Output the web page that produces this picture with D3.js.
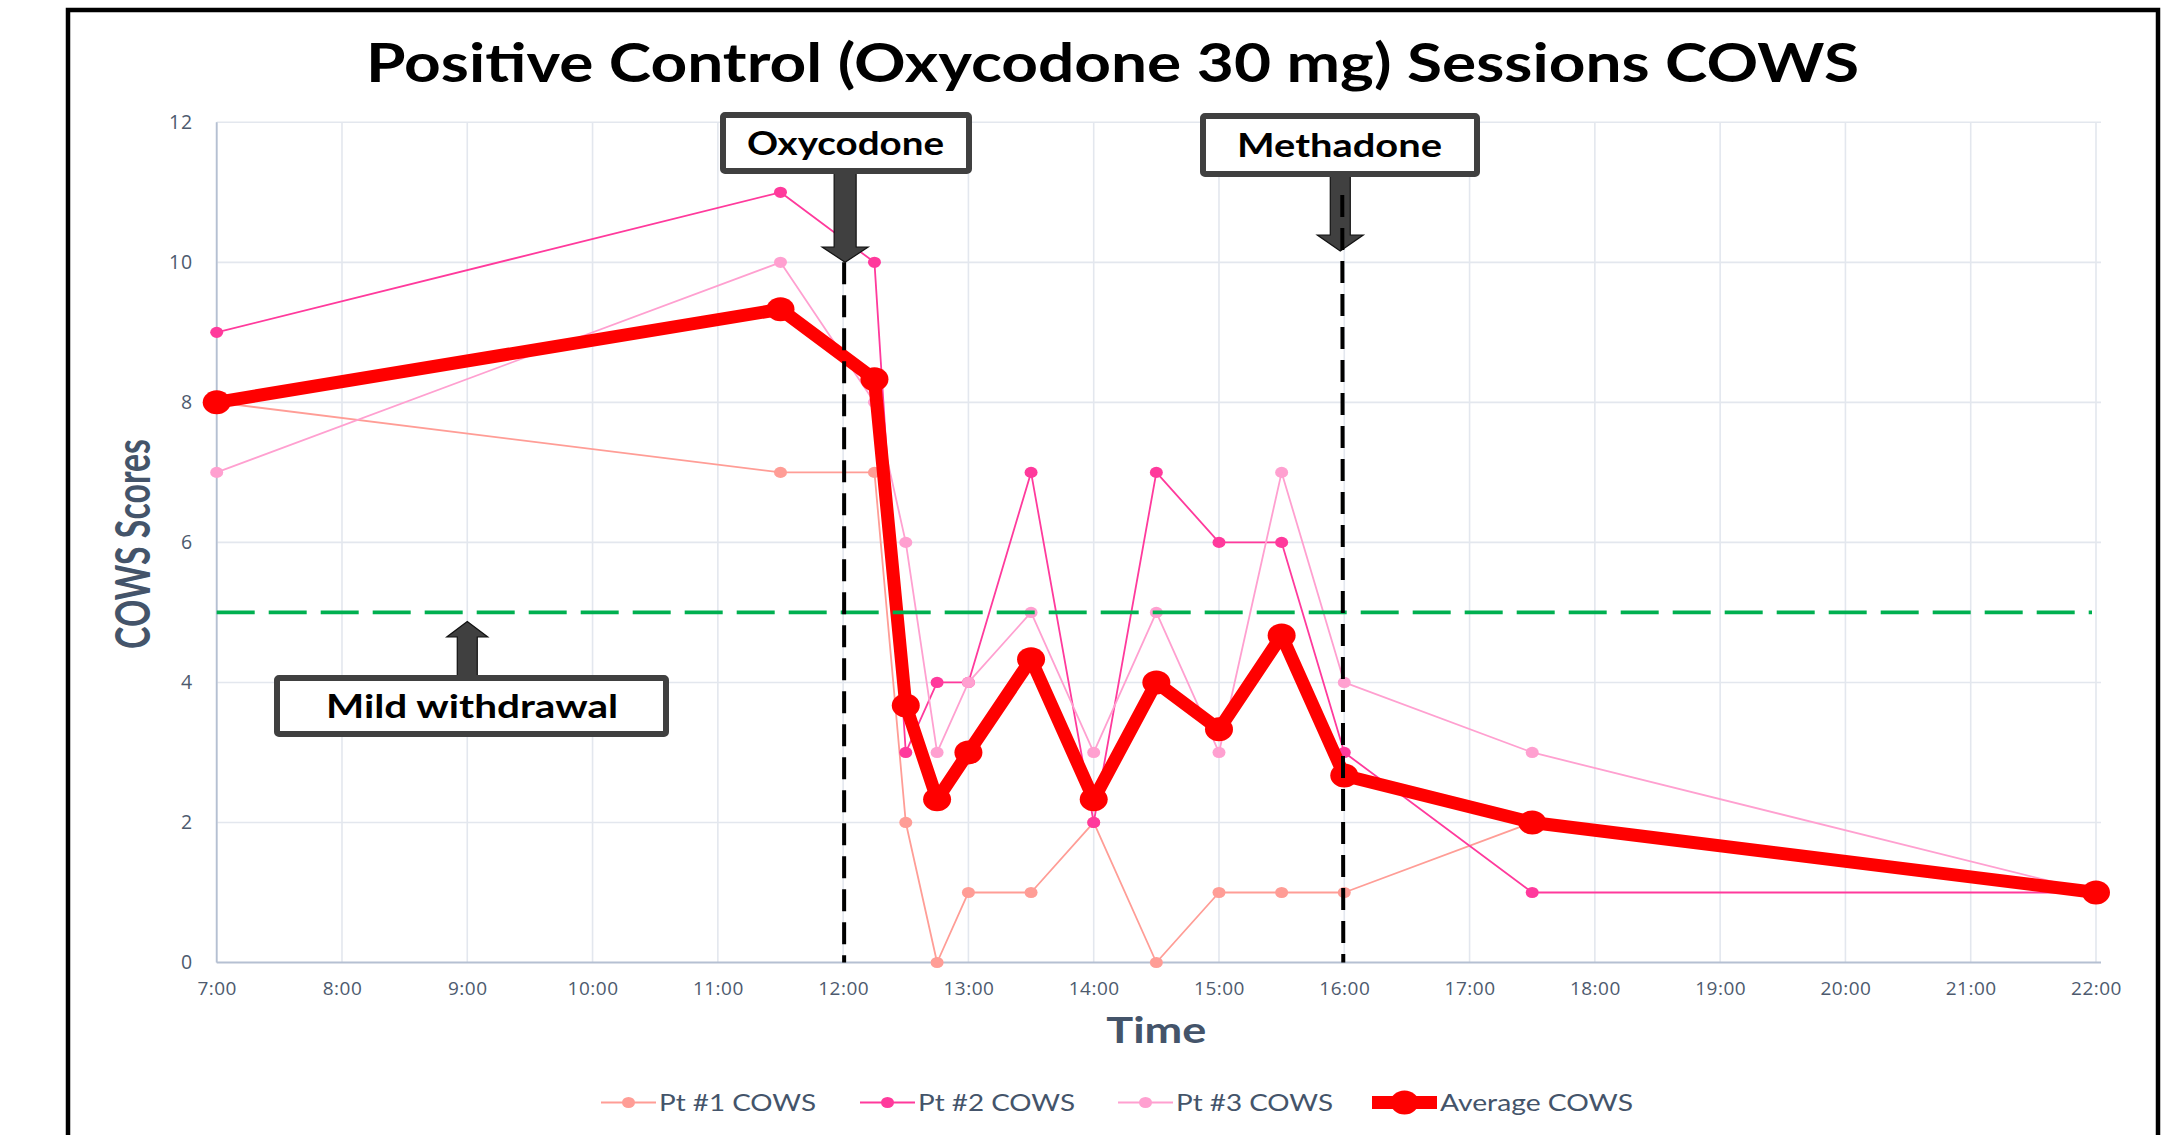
<!DOCTYPE html>
<html>
<head>
<meta charset="utf-8">
<script src="https://cdn.jsdelivr.net/npm/d3@7"></script>
<style>
  html, body { margin: 0; padding: 0; background: #ffffff; }
  svg { display: block; }
</style>
</head>
<body>
<svg id="chart" width="2164" height="1135"></svg>
<script>
// ---------------- DATA ----------------
const times = ["7:00","11:30","12:15","12:30","12:45","13:00","13:30","14:00","14:30","15:00","15:30","16:00","17:30","22:00"];
const pt1 = [8, 7, 7, 2, 0, 1, 1, 2, 0, 1, 1, 1, 2, 1];
const pt2 = [9, 11, 10, 3, 4, 4, 7, 2, 7, 6, 6, 3, 1, 1];
const pt3 = [7, 10, 8, 6, 3, 4, 5, 3, 5, 3, 7, 4, 3, 1];
const avg = [8, 9.33, 8.33, 3.67, 2.33, 3, 4.33, 2.33, 4, 3.33, 4.67, 2.67, 2, 1];
const seriesNames = ["Pt #1 COWS", "Pt #2 COWS", "Pt #3 COWS", "Average COWS"];
const xTickLabels = ["7:00","8:00","9:00","10:00","11:00","12:00","13:00","14:00","15:00","16:00","17:00","18:00","19:00","20:00","21:00","22:00"];
const yTicks = [0, 2, 4, 6, 8, 10, 12];
const titleText = "Positive Control (Oxycodone 30 mg) Sessions COWS";
const xTitle = "Time";
const yTitle = "COWS Scores";
const thresholdValue = 5;            // mild withdrawal threshold
const oxyTime = "12:00", methTime = "16:00", mildTime = "9:00";

// ---------------- HELPERS ----------------
const toHours = s => { const [h, m] = s.split(":").map(Number); return h + m / 60; };

const svg = d3.select("#chart");

// outer frame
svg.append("rect").attr("x", 68).attr("y", 10).attr("width", 2090).attr("height", 1140)
  .attr("fill", "#fff").attr("stroke", "#000").attr("stroke-width", 4.5);

const x = d3.scaleLinear().domain([toHours(xTickLabels[0]), toHours(xTickLabels[xTickLabels.length - 1])]).range([216.7, 2096]);
const y = d3.scaleLinear().domain([0, 12]).range([962.5, 122.3]);

const gridColor = "#e3e7ee", axisColor = "#b5c0d2", labelColor = "#4d5a6e", titleColor = "#44546a";

// gridlines
const g = svg.append("g");
g.selectAll(".vgrid").data(xTickLabels).join("line")
  .attr("x1", d => x(toHours(d))).attr("x2", d => x(toHours(d)))
  .attr("y1", y(12)).attr("y2", y(0))
  .attr("stroke", gridColor).attr("stroke-width", 1.6);
g.selectAll(".hgrid").data(yTicks.filter(d => d > 0)).join("line")
  .attr("x1", x.range()[0]).attr("x2", x.range()[1] + 5)
  .attr("y1", d => y(d)).attr("y2", d => y(d))
  .attr("stroke", gridColor).attr("stroke-width", 1.6);

// axes
const xAxis = d3.axisBottom(x).tickValues(xTickLabels.map(toHours))
  .tickFormat((d, i) => xTickLabels[i]).tickSize(0).tickPadding(19);
const yAxis = d3.axisLeft(y).tickValues(yTicks).tickFormat(d3.format("d")).tickSize(0).tickPadding(23.5);

const gx = svg.append("g").attr("transform", `translate(0,${y(0)})`).call(xAxis);
gx.select(".domain").attr("stroke", axisColor).attr("stroke-width", 1.8).attr("d", `M${x.range()[0]},0H${x.range()[1] + 5}`);
gx.selectAll("text").attr("font-family", "'Open Sans', sans-serif").attr("font-size", 19)
  .attr("fill", labelColor).attr("letter-spacing", 0.5);

const gy = svg.append("g").attr("transform", `translate(${x.range()[0]},0)`).call(yAxis);
gy.select(".domain").attr("stroke", axisColor).attr("stroke-width", 1.8).attr("d", `M0,${y(12)}V${y(0)}`);
gy.selectAll("text").attr("font-family", "'Open Sans', sans-serif").attr("font-size", 19.5)
  .attr("fill", labelColor).attr("letter-spacing", 1);

// titles
svg.append("text").attr("x", 366).attr("y", 82)
  .attr("font-family", "Lato, 'Open Sans', sans-serif").attr("font-weight", 700).attr("font-size", 53)
  .attr("textLength", 1493).attr("lengthAdjust", "spacingAndGlyphs").attr("fill", "#000")
  .text(titleText);

svg.append("text").attr("x", (x.range()[0] + x.range()[1]) / 2).attr("y", 1043)
  .attr("text-anchor", "middle")
  .attr("font-family", "Lato, sans-serif").attr("font-weight", 700).attr("font-size", 37)
  .attr("textLength", 100).attr("lengthAdjust", "spacingAndGlyphs").attr("fill", titleColor)
  .text(xTitle);

svg.append("text").attr("transform", "translate(150,544) rotate(-90)")
  .attr("text-anchor", "middle")
  .attr("font-family", "Lato, sans-serif").attr("font-weight", 700).attr("font-size", 47)
  .attr("textLength", 210).attr("lengthAdjust", "spacingAndGlyphs").attr("fill", titleColor)
  .text(yTitle);

// ---------------- SERIES ----------------
const seriesData = [pt1, pt2, pt3];
const seriesColors = ["#ff9d96", "#ff3a9c", "#ffa0d0"];
const line = d3.line().x(d => x(d.t)).y(d => y(d.v));

seriesData.forEach((vals, si) => {
  const pts = vals.map((v, i) => ({ t: toHours(times[i]), v }));
  const sg = svg.append("g");
  sg.append("path").datum(pts).attr("d", line).attr("fill", "none")
    .attr("stroke", seriesColors[si]).attr("stroke-width", 1.8).attr("stroke-linejoin", "round");
  sg.selectAll("ellipse").data(pts).join("ellipse")
    .attr("cx", d => x(d.t)).attr("cy", d => y(d.v)).attr("rx", 6.5).attr("ry", 5.6)
    .attr("fill", seriesColors[si]);
});

const avgPts = avg.map((v, i) => ({ t: toHours(times[i]), v }));
const ag = svg.append("g");
ag.append("path").datum(avgPts).attr("d", line).attr("fill", "none")
  .attr("stroke", "#ff0000").attr("stroke-width", 13).attr("stroke-linejoin", "round");
ag.selectAll("ellipse").data(avgPts).join("ellipse")
  .attr("cx", d => x(d.t)).attr("cy", d => y(d.v)).attr("rx", 14).attr("ry", 12)
  .attr("fill", "#ff0000");

// threshold line
svg.append("line").attr("x1", x.range()[0]).attr("x2", x.range()[1] - 4)
  .attr("y1", y(thresholdValue)).attr("y2", y(thresholdValue))
  .attr("stroke", "#00b050").attr("stroke-width", 3.6).attr("stroke-dasharray", "38,14");

// ---------------- ANNOTATIONS ----------------
const boxStroke = "#404040";
function arrowPath(cx, yStart, headY, tipY, sw, hw) {
  return `M${cx - sw},${yStart}L${cx + sw},${yStart}L${cx + sw},${headY}L${cx + hw},${headY}L${cx},${tipY}L${cx - hw},${headY}L${cx - sw},${headY}Z`;
}
function calloutBox(x0, y0, x1, y1, label, tx, tw, base) {
  svg.append("rect").attr("x", x0 + 3).attr("y", y0 + 3).attr("width", x1 - x0 - 6).attr("height", y1 - y0 - 6)
    .attr("rx", 2).attr("fill", "#fff").attr("stroke", boxStroke).attr("stroke-width", 6);
  svg.append("text").attr("x", tx).attr("y", base)
    .attr("font-family", "Lato, sans-serif").attr("font-weight", 700).attr("font-size", 32)
    .attr("textLength", tw).attr("lengthAdjust", "spacingAndGlyphs").attr("fill", "#000")
    .text(label);
}

// Oxycodone arrow
const oxX = x(toHours(oxyTime)) + 2;
svg.append("path").attr("d", arrowPath(oxX, 172, 247, y(10), 11, 23))
  .attr("fill", "#404040").attr("stroke", "#111").attr("stroke-width", 1.2);
// Methadone arrow
const meX = x(toHours(methTime)) - 4;
svg.append("path").attr("d", arrowPath(meX, 175, 235, 251, 10, 23))
  .attr("fill", "#404040").attr("stroke", "#111").attr("stroke-width", 1.2);
// Mild withdrawal arrow (up)
const miX = x(toHours(mildTime));
svg.append("path").attr("d", arrowPath(miX, 677, 637, 621.5, 10, 20.5))
  .attr("fill", "#404040").attr("stroke", "#111").attr("stroke-width", 1.2);

// dashed vertical dose lines
svg.append("line").attr("x1", x(toHours(oxyTime)) + 1).attr("x2", x(toHours(oxyTime)) + 1)
  .attr("y1", y(10)).attr("y2", y(0))
  .attr("stroke", "#000").attr("stroke-width", 4).attr("stroke-dasharray", "22,11");
svg.append("line").attr("x1", x(toHours(methTime)) - 2).attr("x2", x(toHours(methTime)) - 1)
  .attr("y1", 195).attr("y2", y(0))
  .attr("stroke", "#000").attr("stroke-width", 4).attr("stroke-dasharray", "22,11");

calloutBox(720, 112, 972, 174, "Oxycodone", 747, 197, 155);
calloutBox(1200, 113, 1480, 177, "Methadone", 1237, 205, 157);
calloutBox(274, 675, 669, 737, "Mild withdrawal", 326, 292, 718);

// ---------------- LEGEND ----------------
const legendX = [601, 860, 1118, 1372];
const legendTextW = [157, 157, 157, 193];
const legendColors = seriesColors.concat(["#ff0000"]);
const ly = 1102.5;
seriesNames.forEach((name, i) => {
  const lg = svg.append("g");
  const isAvg = i === 3;
  const lw = isAvg ? 65 : 55;
  lg.append("line").attr("x1", legendX[i]).attr("x2", legendX[i] + lw).attr("y1", ly).attr("y2", ly)
    .attr("stroke", legendColors[i]).attr("stroke-width", isAvg ? 13 : 1.8);
  lg.append("ellipse").attr("cx", legendX[i] + lw / 2).attr("cy", ly)
    .attr("rx", isAvg ? 14 : 6.5).attr("ry", isAvg ? 12 : 5.6).attr("fill", legendColors[i]);
  lg.append("text").attr("x", legendX[i] + lw + 3).attr("y", 1111)
    .attr("font-family", "Lato, sans-serif").attr("font-size", 24)
    .attr("textLength", legendTextW[i]).attr("lengthAdjust", "spacingAndGlyphs")
    .attr("fill", titleColor).text(name);
});
</script>
</body>
</html>
